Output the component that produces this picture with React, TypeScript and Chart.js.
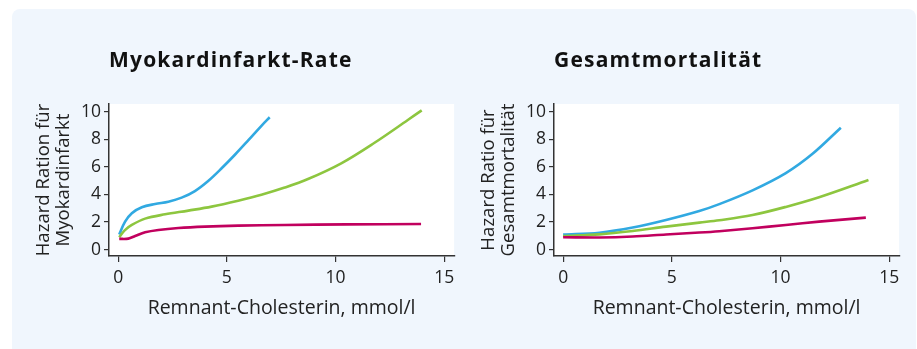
import React, { useEffect, useRef } from 'react';
import { Chart, registerables } from 'chart.js';

Chart.register(...registerables);

const FONT = "'Open Sans', 'Noto Sans', sans-serif";

const xTickValues = [0, 5, 10, 15];
const yTickValues = [0, 2, 4, 6, 8, 10];

// Myokardinfarkt-Rate
const miBlueX = [0.05, 0.32, 0.63, 1.09, 1.7, 2.31, 2.92, 3.53, 4.14, 4.76, 5.37, 5.98, 6.59, 6.97];
const miBlueY = [1.1, 2.03, 2.64, 3.07, 3.31, 3.48, 3.77, 4.25, 4.98, 5.9, 6.88, 7.92, 8.98, 9.6];
const miGreenX = [0.05, 0.3, 0.63, 1.24, 2.16, 3.23, 4.3, 5.52, 6.59, 7.66, 8.73, 10.26, 11.79, 13.32, 13.96];
const miGreenY = [0.9, 1.4, 1.79, 2.25, 2.56, 2.83, 3.12, 3.55, 3.98, 4.5, 5.12, 6.26, 7.75, 9.4, 10.1];
const miRedX = [0.05, 0.47, 0.78, 1.24, 1.85, 2.77, 3.99, 5.52, 7.66, 10.5, 13.93];
const miRedY = [0.78, 0.8, 0.99, 1.26, 1.43, 1.57, 1.67, 1.74, 1.79, 1.83, 1.86];

// Gesamtmortalität
const gmBlueX = [0.0, 1.67, 3.2, 4.73, 6.26, 7.18, 8.71, 10.24, 11.47, 12.77];
const gmBlueY = [1.09, 1.23, 1.6, 2.15, 2.8, 3.3, 4.3, 5.55, 6.95, 8.84];
const gmGreenX = [0.0, 1.67, 3.2, 4.73, 6.26, 7.18, 8.71, 10.24, 11.77, 14.04];
const gmGreenY = [0.99, 1.11, 1.35, 1.67, 1.96, 2.13, 2.51, 3.1, 3.8, 5.05];
const gmRedX = [0.0, 1.67, 3.2, 4.73, 6.26, 7.18, 8.71, 10.24, 11.77, 13.92];
const gmRedY = [0.9, 0.88, 0.95, 1.1, 1.24, 1.34, 1.55, 1.79, 2.03, 2.32];

const BLUE = '#31a9e1';
const GREEN = '#8dc63f';
const RED = '#c1005e';

const zip = (xs: number[], ys: number[]) => xs.map((x, i) => ({ x, y: ys[i] }));

const plotBg = {
  id: 'plotBg',
  beforeDraw(chart: any) {
    const { ctx, chartArea } = chart;
    if (!chartArea) return;
    ctx.save();
    ctx.fillStyle = '#ffffff';
    ctx.fillRect(chartArea.left, chartArea.top, chartArea.right - chartArea.left, chartArea.bottom - chartArea.top);
    ctx.restore();
  },
};

// Wider tracking for the bold panel title, as in the original typography
const titleTracking = {
  id: 'titleTracking',
  beforeDraw(chart: any) {
    const ctx = chart.ctx;
    if (ctx.__tracked) return;
    const orig = ctx.fillText;
    ctx.fillText = function (text: string, x: number, y: number, mw?: number) {
      if (/bold|700/.test(this.font)) {
        const prev = this.letterSpacing;
        this.letterSpacing = '1.2px';
        if (mw === undefined) orig.call(this, text, x, y);
        else orig.call(this, text, x, y, mw + 40);
        this.letterSpacing = prev;
      } else if (mw === undefined) {
        orig.call(this, text, x, y);
      } else {
        orig.call(this, text, x, y, mw);
      }
    };
    ctx.__tracked = true;
  },
};

function makeConfig(title: string, yTitle: string[], series: { xs: number[]; ys: number[]; color: string }[]): any {
  return {
    type: 'line',
    data: {
      datasets: series.map((s) => ({
        data: zip(s.xs, s.ys),
        borderColor: s.color,
        borderWidth: 2.6,
        pointRadius: 0,
        fill: false,
        tension: 0.35,
      })),
    },
    options: {
      animation: false,
      responsive: false,
      maintainAspectRatio: false,
      layout: { padding: { left: 0, right: 5, top: 0, bottom: 0 } },
      plugins: {
        legend: { display: false },
        tooltip: { enabled: false },
        title: {
          display: true,
          text: title,
          align: 'start',
          fullSize: false,
          color: '#111',
          font: { family: FONT, size: 21, weight: 'bold', lineHeight: 1.2 },
          padding: { top: 48.4, bottom: 30.4 },
        },
      },
      scales: {
        x: {
          type: 'linear',
          min: -0.42,
          max: 15.45,
          afterFit(s: any) {
            s.height = 93;
          },
          afterBuildTicks(s: any) {
            s.ticks = xTickValues.map((v) => ({ value: v }));
          },
          ticks: {
            color: '#222',
            font: { family: FONT, size: 17.5 },
            padding: 5.5,
            maxRotation: 0,
            autoSkip: false,
          },
          grid: { drawOnChartArea: false, drawTicks: true, tickLength: 6, color: '#333', lineWidth: 1.2 },
          border: { display: true, color: '#333', width: 1.5 },
          title: {
            display: true,
            text: 'Remnant-Cholesterin, mmol/l',
            color: '#222',
            font: { family: FONT, size: 19.5, lineHeight: 1.2 },
            padding: { top: 0, bottom: 29.3 },
          },
        },
        y: {
          type: 'linear',
          min: -0.46,
          max: 10.56,
          afterFit(s: any) {
            s.width = 109;
          },
          afterBuildTicks(s: any) {
            s.ticks = yTickValues.map((v) => ({ value: v }));
          },
          ticks: {
            color: '#222',
            font: { family: FONT, size: 17.5 },
            padding: 3,
            autoSkip: false,
          },
          grid: { drawOnChartArea: false, drawTicks: true, tickLength: 5, color: '#333', lineWidth: 1.2 },
          border: { display: true, color: '#333', width: 1.5 },
          title: {
            display: true,
            text: yTitle,
            color: '#222',
            font: { family: FONT, size: 18.6, lineHeight: 1.113 },
            padding: { top: 33, bottom: 0 },
          },
        },
      },
    },
    plugins: [plotBg, titleTracking],
  };
}

function ChartCanvas({ config, left }: { config: any; left: number }) {
  const ref = useRef<HTMLCanvasElement | null>(null);
  useEffect(() => {
    if (!ref.current) return;
    const chart = new Chart(ref.current, config);
    return () => chart.destroy();
  }, [config]);
  return (
    <canvas
      ref={ref}
      width={460}
      height={349}
      style={{ position: 'absolute', left, top: 0, width: 460, height: 349 }}
    />
  );
}

const miConfig = makeConfig('Myokardinfarkt-Rate', ['Hazard Ration für', 'Myokardinfarkt'], [
  { xs: miRedX, ys: miRedY, color: RED },
  { xs: miGreenX, ys: miGreenY, color: GREEN },
  { xs: miBlueX, ys: miBlueY, color: BLUE },
]);

const gmConfig = makeConfig('Gesamtmortalität', ['Hazard Ratio für', 'Gesamtmortalität'], [
  { xs: gmRedX, ys: gmRedY, color: RED },
  { xs: gmGreenX, ys: gmGreenY, color: GREEN },
  { xs: gmBlueX, ys: gmBlueY, color: BLUE },
]);

export default function App() {
  return (
    <div
      style={{
        position: 'absolute',
        left: 0,
        top: 0,
        width: 917,
        height: 349,
        overflow: 'hidden',
        background: '#ffffff',
      }}
    >
      <div
        style={{
          position: 'absolute',
          left: 12,
          top: 9,
          width: 904,
          height: 360,
          borderRadius: 8,
          background: '#f0f6fd',
        }}
      />
      <ChartCanvas config={miConfig} left={0} />
      <ChartCanvas config={gmConfig} left={445} />
    </div>
  );
}
